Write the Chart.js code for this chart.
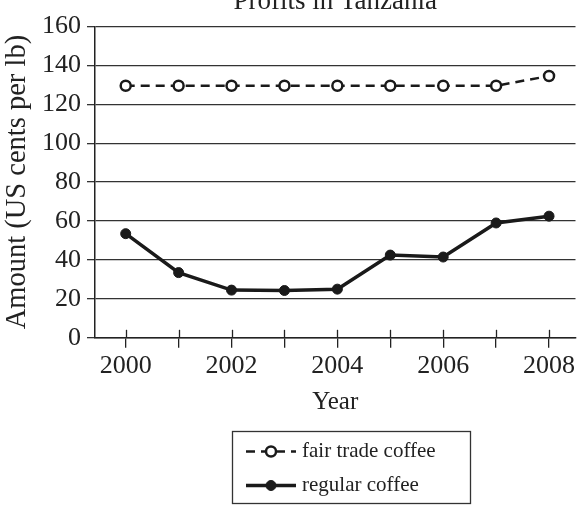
<!DOCTYPE html>
<html>
<head>
<meta charset="utf-8">
<script src="https://cdn.jsdelivr.net/npm/chart.js@4.4.1/dist/chart.umd.min.js"></script>
<style>
  html, body { margin: 0; padding: 0; background: #fff; overflow: hidden; }
  #wrap { position: absolute; left: 0; top: -30px; width: 583px; height: 542px; }
</style>
</head>
<body>
<div id="wrap"><canvas id="profitChart" width="583" height="542"></canvas></div>
<script>
// values
const years = [2000, 2001, 2002, 2003, 2004, 2005, 2006, 2007, 2008];
const fairTrade = [129.5, 129.5, 129.5, 129.5, 129.5, 129.5, 129.5, 129.5, 134.5];
const regular = [53.5, 33.5, 24.5, 24.3, 25, 42.5, 41.5, 59, 62.5];
const yTicks = [0, 20, 40, 60, 80, 100, 120, 140, 160];

const SERIF = '"Liberation Serif", "DejaVu Serif", serif';
const INK = '#222';

// year ticks cross the x axis: chart.js draws the part below, this adds the part above
const crossTicks = {
  id: 'crossTicks',
  afterDatasetsDraw(chart) {
    const ctx = chart.ctx;
    const x = chart.scales.x;
    const bottom = chart.chartArea.bottom;
    ctx.save();
    ctx.strokeStyle = INK;
    ctx.lineWidth = 1.3;
    years.forEach(function(yr) {
      const px = Math.round(x.getPixelForValue(yr)) + 0.5;
      ctx.beginPath();
      ctx.moveTo(px, bottom - 8);
      ctx.lineTo(px, bottom);
      ctx.stroke();
    });
    ctx.restore();
  }
};

// boxed legend under the chart, line + marker sample per dataset
const boxLegend = {
  id: 'boxLegend',
  afterDraw(chart) {
    const ctx = chart.ctx;
    const left = 232.5, top = 461.5, w = 238, h = 72;
    ctx.save();
    ctx.strokeStyle = '#333';
    ctx.lineWidth = 1.3;
    ctx.strokeRect(left, top, w, h);
    chart.data.datasets.forEach(function(ds, i) {
      const cy = top + 20 + i * 34;
      ctx.strokeStyle = ds.borderColor;
      ctx.lineWidth = ds.borderWidth;
      ctx.setLineDash(ds.borderDash || []);
      ctx.beginPath();
      ctx.moveTo(246, cy);
      ctx.lineTo(296, cy);
      ctx.stroke();
      ctx.setLineDash([]);
      ctx.beginPath();
      ctx.arc(271, cy, ds.pointRadius, 0, Math.PI * 2);
      ctx.fillStyle = ds.pointBackgroundColor;
      ctx.fill();
      ctx.lineWidth = ds.pointBorderWidth;
      ctx.strokeStyle = ds.pointBorderColor;
      ctx.stroke();
      ctx.fillStyle = INK;
      ctx.font = '21px ' + SERIF;
      ctx.textBaseline = 'middle';
      ctx.textAlign = 'left';
      ctx.fillText(ds.label, 302, cy);
    });
    ctx.restore();
  }
};

new Chart(document.getElementById('profitChart').getContext('2d'), {
  type: 'line',
  data: {
    datasets: [
      {
        label: 'fair trade coffee',
        data: years.map((yr, i) => ({ x: yr, y: fairTrade[i] })),
        borderColor: '#1a1a1a',
        borderWidth: 2.5,
        borderDash: [9, 6],
        pointRadius: 5,
        pointBorderWidth: 2.5,
        pointBackgroundColor: '#fff',
        pointBorderColor: '#1a1a1a',
        tension: 0
      },
      {
        label: 'regular coffee',
        data: years.map((yr, i) => ({ x: yr, y: regular[i] })),
        borderColor: '#1a1a1a',
        borderWidth: 3.5,
        pointRadius: 5,
        pointBorderWidth: 1,
        pointBackgroundColor: '#1a1a1a',
        pointBorderColor: '#1a1a1a',
        tension: 0
      }
    ]
  },
  options: {
    responsive: false,
    animation: false,
    devicePixelRatio: 1,
    layout: { padding: { left: 0, right: 3, top: 0, bottom: 93 } },
    plugins: {
      legend: { display: false },
      tooltip: { enabled: false },
      title: {
        display: true,
        fullSize: false,
        text: 'Profits in Tanzania',
        color: INK,
        font: { family: SERIF, size: 27, weight: 'normal' },
        padding: { top: 16, bottom: 8 }
      }
    },
    scales: {
      x: {
        type: 'linear',
        min: 1999.42,
        max: 2008.5,
        afterBuildTicks(scale) {
          scale.ticks = years.map(v => ({ value: v }));
        },
        ticks: {
          autoSkip: false,
          maxRotation: 0,
          padding: 3,
          color: INK,
          font: { family: SERIF, size: 26 },
          callback: v => (v % 2 === 0 ? String(v) : '')
        },
        grid: { drawOnChartArea: false, color: INK, lineWidth: 1.3, tickLength: 10 },
        border: { color: INK, width: 1.5 },
        title: {
          display: true,
          text: 'Year',
          color: INK,
          font: { family: SERIF, size: 25 },
          padding: { top: 2, bottom: 2 }
        }
      },
      y: {
        min: 0,
        max: 160,
        afterBuildTicks(scale) {
          scale.ticks = yTicks.map(v => ({ value: v }));
        },
        afterFit(scale) {
          scale.width = 95;
        },
        ticks: {
          padding: 6,
          color: INK,
          font: { family: SERIF, size: 26 }
        },
        grid: { color: '#333', lineWidth: 1.3, tickLength: 8 },
        border: { color: INK, width: 1.5 },
        title: {
          display: true,
          text: 'Amount (US cents per lb)',
          color: INK,
          font: { family: SERIF, size: 28.5 },
          padding: { top: 0, bottom: 0 }
        }
      }
    }
  },
  plugins: [crossTicks, boxLegend]
});
</script>
</body>
</html>
